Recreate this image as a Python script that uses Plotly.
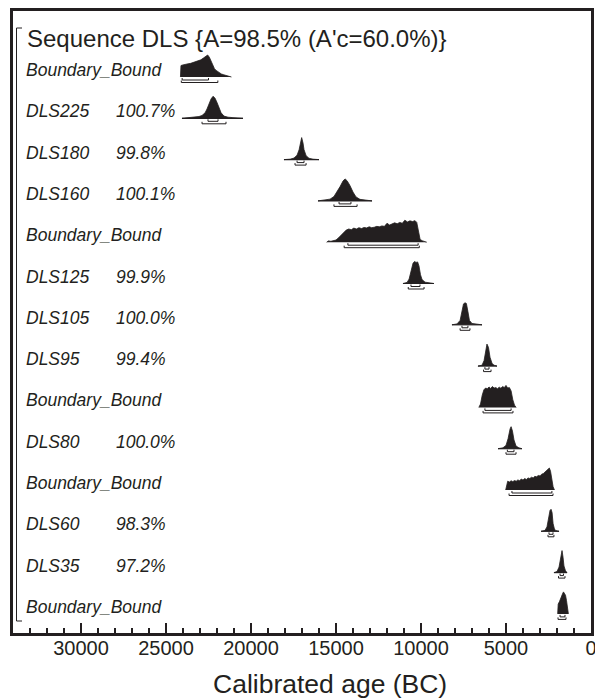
import plotly.graph_objects as go

# ---------------- data ----------------
title_text = "Sequence DLS {A=98.5% (A'c=60.0%)}"
x_title = "Calibrated age (BC)"
labels = ["Boundary_Bound", "DLS225", "DLS180", "DLS160", "Boundary_Bound", "DLS125",
          "DLS105", "DLS95", "Boundary_Bound", "DLS80", "Boundary_Bound", "DLS60",
          "DLS35", "Boundary_Bound"]
agreements = ["", "100.7%", "99.8%", "100.1%", "", "99.9%", "100.0%", "99.4%", "",
              "100.0%", "", "98.3%", "97.2%", ""]
is_date = [False, True, True, True, False, True, True, True, False, True, False, True, True, False]

b1_years = [24150, 24120, 24000, 23850, 23700, 23550, 23400, 23250, 23100, 22950, 22800, 22650,
            22550, 22450, 22350, 22250, 22150, 22050, 21900, 21750, 21600, 21450, 21300, 21150]
b1_dens = [0, 0.52, 0.55, 0.56, 0.6, 0.62, 0.66, 0.68, 0.74, 0.78, 0.86, 0.93,
           1.0, 0.9, 0.7, 0.5, 0.38, 0.3, 0.2, 0.14, 0.1, 0.06, 0.03, 0]
d225_years = [24060, 23820, 23590, 23290, 23060, 22880, 22700, 22590, 22470, 22350, 22235,
              22120, 22000, 21880, 21760, 21590, 21350, 21060, 20760, 20470]
d225_dens = [0, 0.02, 0.03, 0.05, 0.08, 0.13, 0.25, 0.42, 0.65, 0.88, 1.0,
             0.92, 0.72, 0.45, 0.25, 0.1, 0.05, 0.03, 0.02, 0]
d180_years = [18060, 17700, 17470, 17290, 17170, 17085, 17020, 16940, 16880, 16760, 16590, 16350, 16000]
d180_dens = [0, 0.02, 0.07, 0.2, 0.45, 0.8, 1.0, 0.75, 0.45, 0.18, 0.06, 0.02, 0]
d160_years = [16060, 15650, 15350, 15120, 14940, 14760, 14590, 14470, 14350, 14180, 14000,
              13820, 13590, 13230, 12880]
d160_dens = [0, 0.03, 0.08, 0.2, 0.4, 0.65, 0.9, 1.0, 0.92, 0.7, 0.4, 0.18, 0.07, 0.03, 0]
b2_years = [15550, 15450, 15300, 15150, 15000, 14850, 14700, 14550, 14400, 14250, 14100, 13950,
            13800, 13650, 13500, 13350, 13200, 13050, 12900, 12750, 12600, 12450, 12300, 12150,
            12000, 11850, 11700, 11550, 11400, 11250, 11100, 10950, 10800, 10650, 10500, 10350,
            10250, 10150, 10050, 9900, 9750, 9660]
b2_dens = [0, 0.06, 0.04, 0.08, 0.1, 0.2, 0.32, 0.45, 0.55, 0.6, 0.57, 0.64,
           0.6, 0.66, 0.62, 0.67, 0.65, 0.7, 0.66, 0.68, 0.72, 0.7, 0.74, 0.72,
           0.86, 0.78, 0.82, 0.88, 0.84, 0.9, 0.86, 1.0, 0.92, 0.97, 0.94, 0.98,
           0.9, 0.5, 0.12, 0.06, 0.04, 0]
d125_years = [11060, 10820, 10700, 10590, 10470, 10380, 10290, 10200, 10120, 10030, 9940, 9760, 9530, 9235]
d125_dens = [0, 0.05, 0.2, 0.5, 0.92, 1.0, 0.96, 0.98, 0.8, 0.4, 0.18, 0.06, 0.02, 0]
d105_years = [8180, 7880, 7700, 7590, 7500, 7410, 7330, 7240, 7150, 7000, 6700, 6410]
d105_dens = [0, 0.04, 0.2, 0.55, 0.95, 1.0, 0.97, 0.6, 0.2, 0.06, 0.02, 0]
d95_years = [6650, 6410, 6290, 6210, 6120, 6030, 5940, 5820, 5700, 5530]
d95_dens = [0, 0.04, 0.25, 0.7, 1.0, 0.85, 0.4, 0.12, 0.04, 0]
b3_years = [6600, 6500, 6400, 6300, 6200, 6100, 6000, 5900, 5800, 5700, 5600, 5500, 5400,
            5300, 5200, 5100, 5000, 4900, 4800, 4700, 4600, 4500, 4400]
b3_dens = [0, 0.15, 0.55, 0.8, 0.88, 0.85, 0.93, 0.86, 0.95, 0.88, 0.9, 0.85, 0.92,
           0.87, 0.95, 0.9, 1.0, 0.88, 0.9, 0.75, 0.35, 0.1, 0]
d80_years = [5470, 5180, 5000, 4880, 4760, 4700, 4620, 4530, 4410, 4240, 4060]
d80_dens = [0, 0.04, 0.15, 0.45, 0.9, 1.0, 0.8, 0.4, 0.12, 0.04, 0]
b4_years = [5020, 4960, 4900, 4800, 4700, 4600, 4500, 4400, 4300, 4200, 4100, 4000, 3900,
            3800, 3700, 3600, 3500, 3400, 3300, 3200, 3100, 3000, 2900, 2800, 2700, 2600,
            2500, 2450, 2380, 2300, 2230, 2150]
b4_dens = [0, 0.3, 0.4, 0.36, 0.42, 0.38, 0.43, 0.4, 0.46, 0.42, 0.5, 0.45, 0.52,
           0.48, 0.55, 0.52, 0.58, 0.55, 0.62, 0.6, 0.66, 0.64, 0.72, 0.75, 0.82, 0.88,
           0.96, 1.0, 0.85, 0.5, 0.15, 0]
d60_years = [2940, 2710, 2590, 2500, 2410, 2350, 2290, 2230, 2150, 2060, 1880]
d60_dens = [0, 0.04, 0.2, 0.6, 0.95, 1.0, 0.85, 0.35, 0.1, 0.03, 0]
d35_years = [2180, 2000, 1880, 1790, 1705, 1645, 1590, 1500, 1410]
d35_dens = [0, 0.05, 0.25, 0.6, 1.0, 0.7, 0.3, 0.08, 0]
b5_years = [1960, 1930, 1860, 1800, 1740, 1680, 1620, 1560, 1500, 1440, 1380, 1330]
b5_dens = [0, 0.45, 0.55, 0.7, 0.8, 0.9, 1.0, 0.95, 0.85, 0.6, 0.2, 0]

years_list = [b1_years, d225_years, d180_years, d160_years, b2_years, d125_years, d105_years,
              d95_years, b3_years, d80_years, b4_years, d60_years, d35_years, b5_years]
dens_list = [b1_dens, d225_dens, d180_dens, d160_dens, b2_dens, d125_dens, d105_dens,
             d95_dens, b3_dens, d80_dens, b4_dens, d60_dens, d35_dens, b5_dens]

range68 = [(24050, 22500), (22530, 21940), (17290, 16880), (14820, 14120), (14300, 10170),
           (10590, 10060), (7590, 7240), (6240, 6000), (6240, 4700), (4920, 4530),
           (4650, 2300), (2470, 2235), (1820, 1620), (1820, 1530)]
range95 = [(24100, 21950), (22880, 21470), (17410, 16760), (15120, 13760), (14520, 10100),
           (10750, 9820), (7700, 7120), (6320, 5880), (6350, 4590), (5000, 4410),
           (4820, 2235), (2530, 2180), (1910, 1530), (1940, 1470)]

tick_step = 5000
minor_step = 1000
x_left, x_right = 34000, 0

# ---------------- layout constants ----------------
W, H = 595, 698
m_l, m_r, m_t, m_b = 13, 4, 11, 65
row_px = 41.3
first_row_px = 59.0
plot_h = H - m_t - m_b
ink = "#231f20"
px = 1.0 / row_px              # one pixel in row units
base_off = 7 * px              # baseline below label centre
peak_h = 22 * px               # height of distribution
FONT = "Liberation Sans, Arial, sans-serif"

fig = go.Figure()

for i, (yrs, dens) in enumerate(zip(years_list, dens_list)):
    base = i + base_off
    ys = [base - d * peak_h for d in dens]
    fig.add_trace(go.Scatter(x=yrs, y=ys, mode="lines", fill="toself",
                             fillcolor=ink, line=dict(color=ink, width=0.8),
                             hoverinfo="skip", showlegend=False))
    if is_date[i]:
        fig.add_trace(go.Scatter(x=[yrs[0], yrs[-1]], y=[base, base], mode="lines",
                                 line=dict(color=ink, width=1.2), hoverinfo="skip",
                                 showlegend=False))
    # range brackets
    for (a, b), off in ((range68[i], 3 * px), (range95[i], 5.5 * px)):
        yb = base + off
        fig.add_trace(go.Scatter(x=[a, a, b, b], y=[yb - 2 * px, yb, yb, yb - 2 * px],
                                 mode="lines", line=dict(color=ink, width=1),
                                 hoverinfo="skip", showlegend=False))

pw = W - m_l - m_r
lab_x = (24 - m_l) / pw
pct_x = (114 - m_l) / pw
annotations = [dict(x=(25 - m_l) / pw, y=(38 - m_t - first_row_px) / row_px, xref="paper", yref="y",
                    text=title_text, showarrow=False, xanchor="left", yanchor="middle",
                    font=dict(family=FONT, size=24, color=ink)),
               dict(x=(330 - m_l) / pw, y=-(684 - (H - m_b)) / plot_h, xref="paper", yref="paper",
                    text=x_title, showarrow=False, xanchor="center", yanchor="middle",
                    font=dict(family=FONT, size=26.5, color=ink))]
for i, (lab, pct) in enumerate(zip(labels, agreements)):
    annotations.append(dict(x=lab_x, y=i, xref="paper", yref="y", text="<i>" + lab + "</i>",
                            showarrow=False, xanchor="left", yanchor="middle",
                            font=dict(family=FONT, size=17.5, color=ink)))
    if pct:
        annotations.append(dict(x=pct_x, y=i, xref="paper", yref="y", text="<i>" + pct + "</i>",
                                showarrow=False, xanchor="left", yanchor="middle",
                                font=dict(family=FONT, size=17.5, color=ink)))

y_top = -first_row_px / row_px
y_bot = (plot_h - first_row_px) / row_px
br_top = (28 - m_t - first_row_px) / row_px
br_bot = (621 - m_t - first_row_px) / row_px
bx0 = (16.5 - m_l) / pw
bx1 = (22 - m_l) / pw
shapes = [dict(type="path", xref="paper", yref="y",
               path=f"M {bx1} {br_top} L {bx0} {br_top} L {bx0} {br_bot} L {bx1} {br_bot}",
               line=dict(color=ink, width=1))]

fig.update_layout(
    width=W, height=H, autosize=False,
    margin=dict(l=m_l, r=m_r, t=m_t, b=m_b, autoexpand=False),
    paper_bgcolor="white", plot_bgcolor="white",
    annotations=annotations, shapes=shapes,
    xaxis=dict(range=[x_left, x_right], tickmode="linear", tick0=0, dtick=tick_step,
               tickformat="d", ticks="inside", ticklen=10, tickwidth=1.5, tickcolor=ink,
               minor=dict(dtick=minor_step, ticks="inside", ticklen=5, tickwidth=1.5, tickcolor=ink),
               showline=True, linewidth=2.5, linecolor=ink, mirror=True,
               showgrid=False, zeroline=False, automargin=False,
               ticklabeloverflow="allow", ticklabelstandoff=-5,
               tickfont=dict(family=FONT, size=20, color=ink)),
    yaxis=dict(range=[y_bot, y_top], showticklabels=False, ticks="", showgrid=False,
               zeroline=False, showline=True, linewidth=2.5, linecolor=ink, mirror=True,
               automargin=False),
)

fig.write_html("out.html", config={"responsive": False, "displayModeBar": False},
               post_script="document.body.style.margin='0px';document.body.style.overflow='hidden';")
